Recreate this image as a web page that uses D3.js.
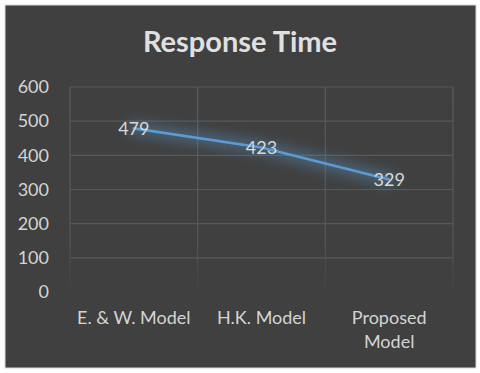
<!DOCTYPE html>
<html><head><meta charset="utf-8">
<script src="https://cdn.jsdelivr.net/npm/d3@7"></script>
<style>body{margin:0;background:#fff}svg{display:block}text{font-family:Lato,"Open Sans",sans-serif}</style>
</head><body><svg id="c" width="480" height="373"></svg>
<script>
const categories = [["E. & W. Model"], ["H.K. Model"], ["Proposed", "Model"]];
const values = [479, 423, 329];
const yTicks = [0, 100, 200, 300, 400, 500, 600];
const title = "Response Time";

const svg = d3.select("#c");
svg.append("rect").attr("x",5).attr("y",5).attr("width",471).attr("height",363).attr("fill","#404040").attr("stroke","#d9d9d9").attr("stroke-width",1);

const defs = svg.append("defs");
const grad = defs.append("linearGradient").attr("id","vfade").attr("x1",0).attr("y1",0).attr("x2",0).attr("y2",1).attr("gradientUnits","objectBoundingBox");
grad.append("stop").attr("offset","0%").attr("stop-color","#5a5a5a");
grad.append("stop").attr("offset","75%").attr("stop-color","#565656");
grad.append("stop").attr("offset","100%").attr("stop-color","#404040");
const glow = defs.append("filter").attr("id","glow").attr("x","-20%").attr("y","-50%").attr("width","140%").attr("height","200%");
glow.append("feGaussianBlur").attr("stdDeviation",6);

const x = d3.scaleBand().domain(categories.map(d=>d.join(" "))).range([70,453]);
const y = d3.scaleLinear().domain([0,600]).range([292,87]);

// horizontal gridlines
svg.append("g").selectAll("line").data(yTicks.filter(t=>t>0)).join("line")
  .attr("x1",70).attr("x2",453).attr("y1",d=>y(d)).attr("y2",d=>y(d))
  .attr("stroke","#595959").attr("stroke-width",1.2);
// vertical gridlines
const vx = [70, ...categories.map(d=>x(d.join(" "))+x.bandwidth())];
svg.append("g").selectAll("rect").data(vx).join("rect")
  .attr("x",d=>d-0.6).attr("width",1.2).attr("y",y(600)).attr("height",y(0)-y(600))
  .attr("fill","url(#vfade)");

// y axis labels
const yAxis = d3.axisLeft(y).tickValues(yTicks).tickSize(0).tickPadding(21);
const ya = svg.append("g").attr("transform","translate(70,0)").call(yAxis);
ya.select(".domain").remove();
ya.selectAll("text").attr("fill","#d4d4d4").attr("font-size",18).attr("font-family","Lato,sans-serif");

// x labels
const xg = svg.append("g");
categories.forEach(c=>{
  const t = xg.append("text").attr("x",x(c.join(" "))+x.bandwidth()/2).attr("y",324)
    .attr("text-anchor","middle").attr("fill","#d4d4d4").attr("font-size",18);
  c.forEach((ln,i)=>t.append("tspan").attr("x",x(c.join(" "))+x.bandwidth()/2).attr("dy",i?24:0).text(ln));
});

const pts = categories.map((c,i)=>[x(c.join(" "))+x.bandwidth()/2, y(values[i])]);
const line = d3.line();
svg.append("path").attr("d",line(pts)).attr("fill","none").attr("stroke","#5b9bd5").attr("stroke-width",14).attr("stroke-opacity",0.35).attr("stroke-linecap","round").attr("filter","url(#glow)");
svg.append("path").attr("d",line(pts)).attr("fill","none").attr("stroke","#5b9bd5").attr("stroke-width",2.6).attr("stroke-linecap","round");

svg.append("g").selectAll("text").data(values).join("text")
  .attr("x",(d,i)=>pts[i][0]).attr("y",(d,i)=>pts[i][1]).attr("dy","0.35em")
  .attr("text-anchor","middle").attr("fill","#d9d9d9").attr("font-size",18).text(d=>d);

svg.append("text").attr("x",240).attr("y",52).attr("text-anchor","middle")
  .attr("fill","#e0e0e0").attr("font-size",29).attr("font-weight","bold").text(title);
</script></body></html>
